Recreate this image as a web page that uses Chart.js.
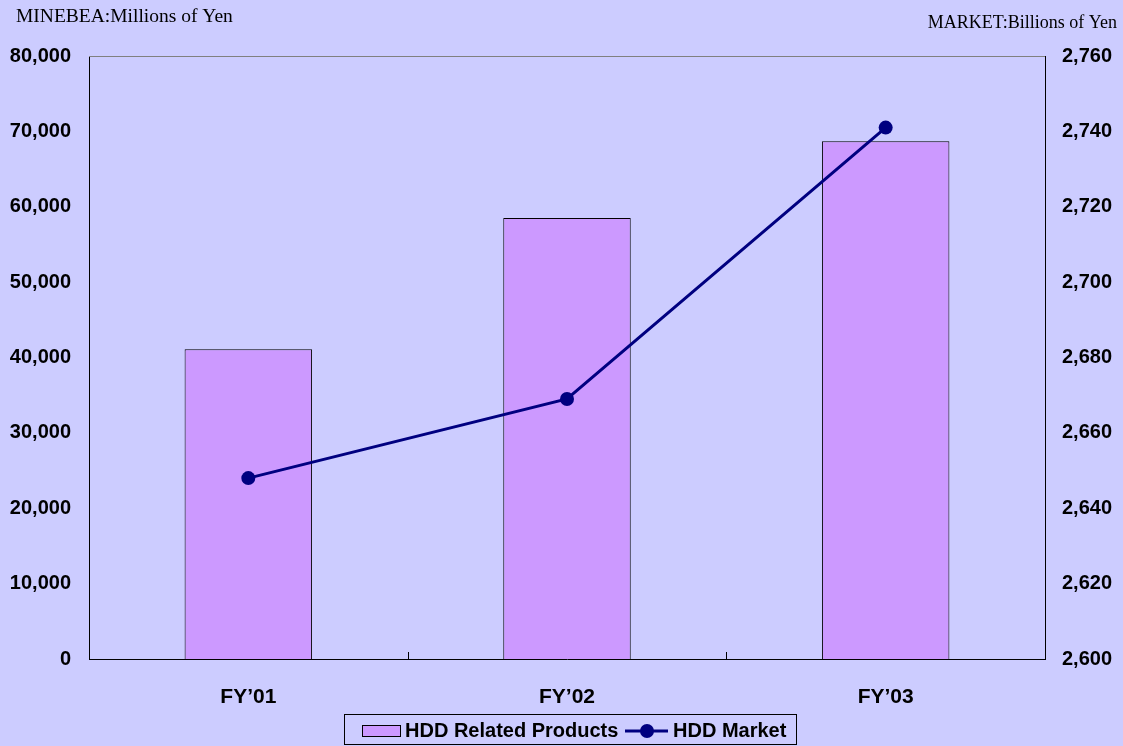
<!DOCTYPE html>
<html>
<head>
<meta charset="utf-8">
<script src="https://cdn.jsdelivr.net/npm/chart.js@4.4.0/dist/chart.umd.min.js"></script>
<style>
  html, body { margin: 0; padding: 0; background: #ccccff; }
  #wrap { width: 1123px; height: 746px; position: relative; }
</style>
</head>
<body>
<div id="wrap"><canvas id="hddChart" width="1123" height="746"></canvas></div>
<script>
const categories = ["FY\u201901", "FY\u201902", "FY\u201903"];
const hddProducts = [41100, 58500, 68700];   // Millions of Yen (left axis)
const hddMarket = [2648, 2669, 2741];        // Billions of Yen (right axis)
const leftTitle = "MINEBEA:Millions of Yen";
const rightTitle = "MARKET:Billions of Yen";
const seriesNames = ["HDD Related Products", "HDD Market"];

const barColor = "#cc99ff";
const lineColor = "#000080";
const tickFont = { family: "'Liberation Sans', Arial, sans-serif", size: 20, weight: "bold" };

// background, titles, top border, inner x ticks, legend box
const extras = {
    id: "extras",
    beforeDraw(chart) {
        const ctx = chart.ctx;
        ctx.save();
        ctx.fillStyle = "#ccccff";
        ctx.fillRect(0, 0, chart.width, chart.height);
        ctx.restore();
    },
    afterDraw(chart) {
        const ctx = chart.ctx;
        const a = chart.chartArea;
        const x = chart.scales.x;
        ctx.save();
        // top border of plot
        ctx.strokeStyle = "#808080";
        ctx.lineWidth = 1;
        ctx.beginPath();
        ctx.moveTo(a.left, a.top + 0.5);
        ctx.lineTo(a.right, a.top + 0.5);
        ctx.stroke();
        // category separator ticks pointing up
        ctx.strokeStyle = "#000";
        for (let i = 0; i < categories.length - 1; i++) {
            const px = Math.round((x.getPixelForValue(i) + x.getPixelForValue(i + 1)) / 2) + 0.5;
            ctx.beginPath();
            ctx.moveTo(px, a.bottom);
            ctx.lineTo(px, a.bottom - 7);
            ctx.stroke();
        }
        // axis unit titles
        ctx.fillStyle = "#000";
        ctx.textBaseline = "middle";
        ctx.textAlign = "left";
        ctx.font = "19.5px 'Liberation Serif', 'Times New Roman', serif";
        ctx.fillText(leftTitle, 16, 17);
        ctx.textAlign = "right";
        ctx.font = "18px 'Liberation Serif', 'Times New Roman', serif";
        ctx.fillText(rightTitle, 1117, 23);

        // legend
        const lx = 344, ly = 714, lw = 452, lh = 30;
        ctx.strokeStyle = "#000";
        ctx.strokeRect(lx + 0.5, ly + 0.5, lw, lh);
        ctx.fillStyle = barColor;
        ctx.fillRect(362, 725, 38, 11);
        ctx.strokeRect(362.5, 725.5, 38, 11);
        ctx.font = "bold 20px 'Liberation Sans', Arial, sans-serif";
        ctx.fillStyle = "#000";
        ctx.textAlign = "left";
        ctx.fillText(seriesNames[0], 405, 731);
        ctx.strokeStyle = lineColor;
        ctx.lineWidth = 3;
        ctx.beginPath();
        ctx.moveTo(625, 731);
        ctx.lineTo(668, 731);
        ctx.stroke();
        ctx.fillStyle = lineColor;
        ctx.beginPath();
        ctx.arc(647, 731, 7, 0, Math.PI * 2);
        ctx.fill();
        ctx.fillStyle = "#000";
        ctx.fillText(seriesNames[1], 673, 731);
        ctx.restore();
    }
};

new Chart(document.getElementById("hddChart"), {
    data: {
        labels: categories,
        datasets: [{
            type: "line",
            label: seriesNames[1],
            data: hddMarket,
            yAxisID: "y1",
            borderColor: lineColor,
            backgroundColor: lineColor,
            borderWidth: 3,
            pointRadius: 7,
            pointBackgroundColor: lineColor,
            pointBorderWidth: 0,
            tension: 0,
            order: 0
        }, {
            type: "bar",
            label: seriesNames[0],
            data: hddProducts,
            yAxisID: "y",
            backgroundColor: barColor,
            borderColor: "#000",
            borderWidth: 1,
            barPercentage: 0.4,
            categoryPercentage: 1,
            order: 1
        }]
    },
    options: {
        responsive: false,
        animation: false,
        layout: {
            padding: { top: 56, left: 0, right: 0, bottom: 27 }
        },
        plugins: {
            legend: { display: false },
            tooltip: { enabled: false }
        },
        scales: {
            x: {
                offset: true,
                grid: { display: false },
                border: { display: true, color: "#000", width: 1 },
                ticks: {
                    color: "#000",
                    font: { family: tickFont.family, size: 21, weight: "bold" },
                    padding: 18
                },
                afterFit(s) { s.height = 60; }
            },
            y: {
                position: "left",
                min: 0,
                max: 80000,
                grid: { display: false },
                border: { display: true, color: "#000", width: 1 },
                ticks: {
                    stepSize: 10000,
                    color: "#000",
                    font: tickFont,
                    padding: 10
                },
                afterFit(s) { s.width = 89; }
            },
            y1: {
                position: "right",
                min: 2600,
                max: 2760,
                grid: { display: false },
                border: { display: true, color: "#000", width: 1 },
                ticks: {
                    stepSize: 20,
                    color: "#000",
                    font: tickFont,
                    padding: 9
                },
                afterFit(s) { s.width = 78; }
            }
        }
    },
    plugins: [extras]
});
</script>
</body>
</html>
